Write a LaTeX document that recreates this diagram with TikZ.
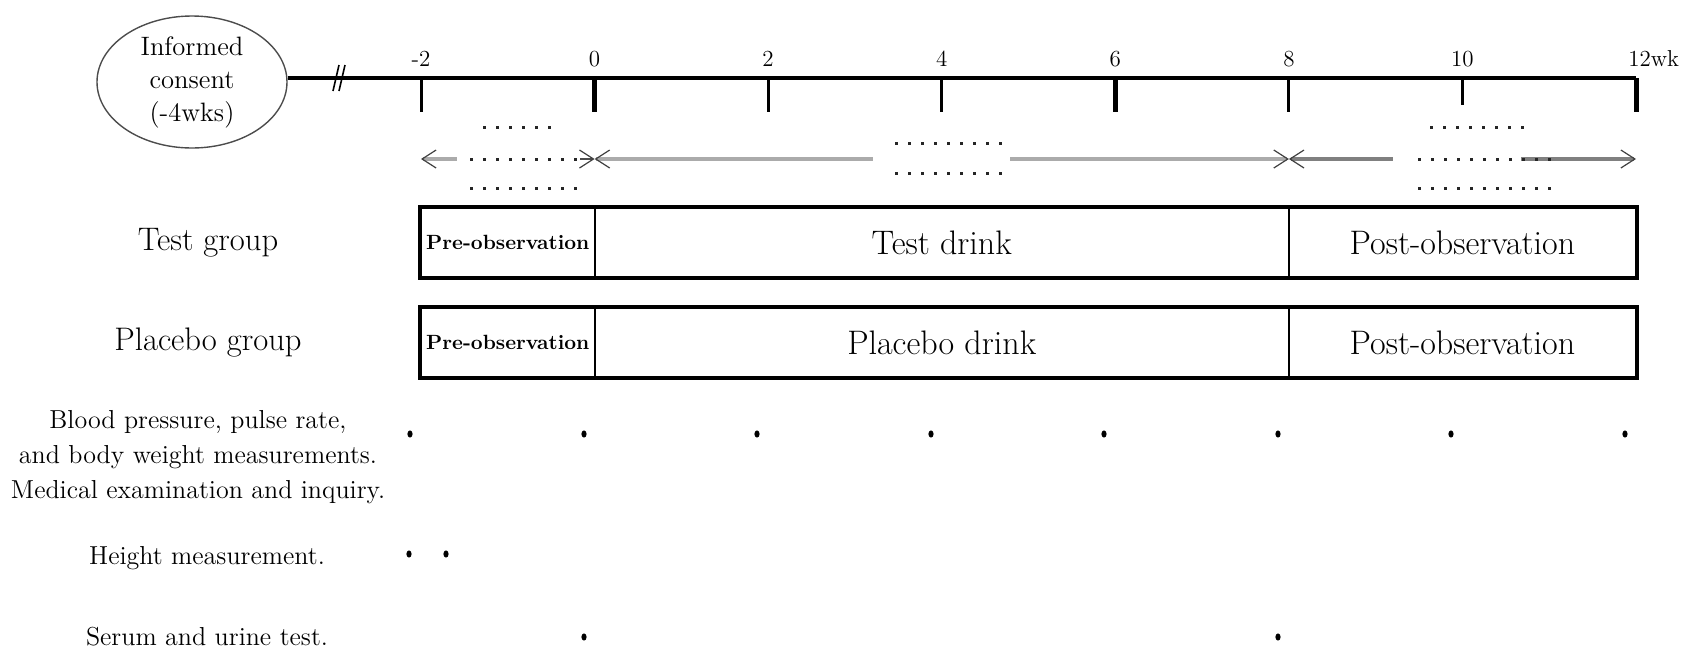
\documentclass[tikz,border=0pt]{standalone}
\usetikzlibrary{arrows.meta,shapes.geometric}
\begin{document}
\begin{tikzpicture}[x=0.5pt,y=-0.5pt,
  axisline/.style={line width=2pt},
  tickthin/.style={line width=1.5pt},
  tickthick/.style={line width=2.5pt},
  ticklabel/.style={font=\fontsize{11.5}{13}\selectfont, inner sep=0pt},
  tipS/.style={arrows={Straight Barb[length=7pt,width=9pt,line width=0.6pt,color=black!75]-}},
  tipE/.style={arrows={-Straight Barb[length=7pt,width=9pt,line width=0.6pt,color=black!75]}},
  lgray/.style={draw=black!33, line width=2.2pt},
  dgray/.style={draw=black!50, line width=1.6pt},
  dotrow/.style={draw=black!85, line width=1.5pt, dash pattern=on 1.5pt off 5pt},
  cell/.style={draw, line width=1pt, minimum height=34.5pt, inner sep=0pt},
  celltext/.style={font=\fontsize{17}{20}\selectfont},
  pretext/.style={font=\fontsize{10.3}{12}\selectfont\bfseries},
  grouplabel/.style={font=\fontsize{16.3}{19}\selectfont, inner sep=0pt},
  measlabel/.style={font=\fontsize{13}{17.5}\selectfont, align=center, inner sep=0pt},
  mdot/.style={ellipse, fill=black, inner sep=0pt, minimum width=2.6pt, minimum height=3.6pt}
]
\useasboundingbox (0,0) rectangle (1688,649);

% informed consent ellipse
\node[ellipse, draw=black!70, line width=0.7pt, minimum width=95pt, minimum height=66pt,
      align=center, inner xsep=0pt, inner ysep=-3pt, font=\fontsize{13.3}{16.5}\selectfont] (ic) at (192,82)
      {Informed\\consent\\(-4wks)};

% ticks and labels
\foreach \n/\x/\s/\yb/\lab in {m2/421/tickthin/112/-2, 0/594.6/tickthick/112/0, 2/768.1/tickthin/112/2,
  4/941.7/tickthin/112/4, 6/1115.3/tickthick/112/6, 8/1288.9/tickthin/112/8,
  10/1462.4/tickthin/105/10}{
  \coordinate (t\n) at (\x,78);
  \coordinate (b\n) at (\x,\yb);
  \draw[\s] (t\n) -- (b\n);
  \node[ticklabel] (l\n) at (\x,59) {\lab};
}
\coordinate (t12) at (1636,78);
\coordinate (b12) at (1636,112);
\draw[tickthick] (t12) -- (b12);
\node[ticklabel, anchor=west] (l12) at (1628,59) {12wk};

% axis
\draw[axisline] (ic.east |- t12) -- (t12);
% break mark
\draw[line width=0.8pt] (333,91) -- (339,65);
\draw[line width=0.8pt] (339,91) -- (345,65);

% arrow row
\coordinate (am2) at (421,159);
\coordinate (am2e) at (457,159);
\coordinate (a0in) at (580,159);
\coordinate (a0) at (594.6,159);
\coordinate (a4l) at (873,159);
\coordinate (a4r) at (1010,159);
\coordinate (a8) at (1288.9,159);
\coordinate (a10l) at (1393,159);
\coordinate (a10r) at (1521,159);
\coordinate (a12) at (1636,159);

\draw[lgray, line width=1.6pt, tipS] (am2) -- (am2e);
\draw[draw=black!70, line width=1pt, tipE] (a0in) -- (a0);
\draw[lgray, tipS] (a0) -- (a4l);
\draw[lgray, tipE] (a4r) -- (a8);
\draw[dgray, tipS] (a8) -- (a10l);
\draw[dgray, tipE] (a10r) -- (a12);

% dotted placeholder rows
\draw[dotrow] (483,127) -- (552,127);
\draw[dotrow] (470,159) -- (578,159);
\draw[dotrow] (470,188) -- (578,188);
\draw[dotrow] (895,143) -- (1003,143);
\draw[dotrow] (895,173) -- (1003,173);
\draw[dotrow] (1430,127) -- (1525,127);
\draw[dotrow] (1418,159) -- (1552,159);
\draw[dotrow] (1418,188) -- (1552,188);

% group rows
\node[grouplabel] (tg) at (208,242.5) {Test group};
\node[cell, minimum width=86.8pt, pretext] (tpre) at (507.8,242.5) {Pre-observation};
\node[cell, minimum width=347.15pt, celltext] (tdr) at (941.75,242.5) {Test drink};
\node[cell, minimum width=173.55pt, celltext] (tpo) at (1462.45,242.5) {Post-observation};
\draw[line width=2pt] (tpre.north west) rectangle (tpo.south east);

\node[grouplabel] (pg) at (208,342.5) {Placebo group};
\node[cell, minimum width=86.8pt, pretext] (ppre) at (507.8,342.5) {Pre-observation};
\node[cell, minimum width=347.15pt, celltext] (pdr) at (941.75,342.5) {Placebo drink};
\node[cell, minimum width=173.55pt, celltext] (ppo) at (1462.45,342.5) {Post-observation};
\draw[line width=2pt] (ppre.north west) rectangle (ppo.south east);

% measurement rows
\node[measlabel] (m1) at (198,457) {Blood pressure, pulse rate,\\and body weight measurements.\\Medical examination and inquiry.};
\foreach \x [count=\i] in {410,584,757,931,1104,1278,1451,1625}
  \node[mdot] (bp\i) at (\x,434) {};

\node[measlabel] (m2) at (207,558) {Height measurement.};
\node[mdot] (h1) at (409,554) {};
\node[mdot] (h2) at (446,554) {};

\node[measlabel] (m3) at (207,637) {Serum and urine test.};
\node[mdot] (s1) at (584,637) {};
\node[mdot] (s2) at (1278,637) {};
\end{tikzpicture}
\end{document}
